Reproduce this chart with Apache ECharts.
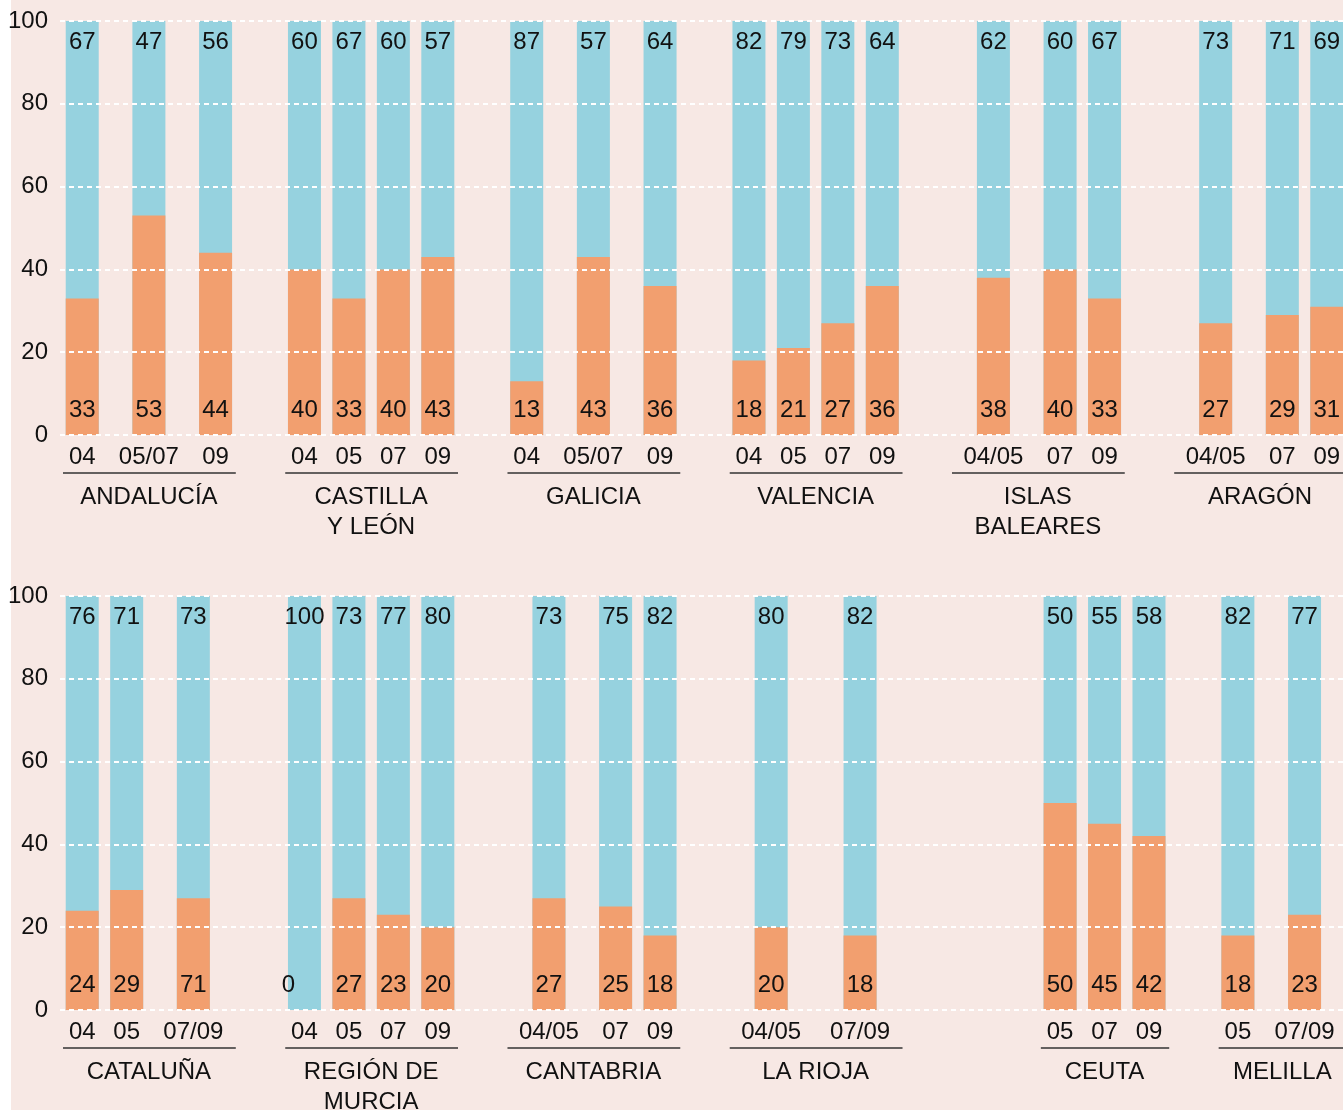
<!DOCTYPE html>
<html>
<head>
<meta charset="utf-8">
<script src="https://cdn.jsdelivr.net/npm/echarts@6/dist/echarts.min.js"></script>
<style>
html, body { margin: 0; padding: 0; background: #fff; }
#chart { width: 1343px; height: 1110px; }
</style>
</head>
<body>
<div id="chart"></div>
<script>
// fila superior
var regions1 = ['ANDALUCÍA', 'CASTILLA\nY LEÓN', 'GALICIA', 'VALENCIA', 'ISLAS\nBALEARES', 'ARAGÓN'];
var periods1 = [['04', '05/07', '09'], ['04', '05', '07', '09'], ['04', '05/07', '09'], ['04', '05', '07', '09'], ['04/05', '07', '09'], ['04/05', '07', '09']];
var blue1 = [[67, 47, 56], [60, 67, 60, 57], [87, 57, 64], [82, 79, 73, 64], [62, 60, 67], [73, 71, 69]];
var orange1 = [[33, 53, 44], [40, 33, 40, 43], [13, 43, 36], [18, 21, 27, 36], [38, 40, 33], [27, 29, 31]];

// fila inferior
var regions2 = ['CATALUÑA', 'REGIÓN DE\nMURCIA', 'CANTABRIA', 'LA RIOJA', 'CEUTA', 'MELILLA'];
var periods2 = [['04', '05', '07/09'], ['04', '05', '07', '09'], ['04/05', '07', '09'], ['04/05', '07/09'], ['05', '07', '09'], ['05', '07/09']];
var blue2 = [[76, 71, 73], [100, 73, 77, 80], [73, 75, 82], [80, 82], [50, 55, 58], [82, 77]];
var orange2 = [[24, 29, 27], [0, 27, 23, 20], [27, 25, 18], [20, 18], [50, 45, 42], [18, 23]];
// el rótulo impreso de Cataluña 07/09 dice 71 aunque la barra mide 27
var orangePrinted2 = [[24, 29, 71], [0, 27, 23, 20], [27, 25, 18], [20, 18], [50, 45, 42], [18, 23]];

var yTicks = [0, 20, 40, 60, 80, 100];

// layout: slot where each group starts
var start1 = [0, 5, 10, 15, 20, 25];
var start2 = [0, 5, 10, 15, 22, 26];

var BLUE = '#96d2df';
var ORANGE = '#f29f6f';
var BG = '#f7e8e4';
var FONT = 'Liberation Sans';
var FS = 24;
var rows = [
    { regions: regions1, periods: periods1, blue: blue1, orange: orange1, printed: orange1, start: start1, top: 21 },
    { regions: regions2, periods: periods2, blue: blue2, orange: orange2, printed: orangePrinted2, start: start2, top: 596 }
];
var GRID_H = 414;

function slotsOf(periods) {
    var has04 = periods.some(function (p) { return p.split('/').indexOf('04') >= 0; });
    return has04 ? ['04', '05', '07', '09'] : ['05', '07', '09'];
}

var option = {
    backgroundColor: BG,
    animation: false,
    textStyle: { fontFamily: FONT },
    grid: [],
    xAxis: [],
    yAxis: [],
    series: [],
    graphic: [{ type: 'rect', left: 0, top: 0, shape: { width: 11, height: 1110 }, style: { fill: '#fff' } }]
};

var underlines = [];

rows.forEach(function (row, r) {
    var pos = [], periodText = {}, centers = [], nameText = {};
    var totalData = [], orangeData = [], blueLabels = [], orangeLabels = [];
    row.regions.forEach(function (name, g) {
        var slots = slotsOf(row.periods[g]);
        var s = row.start[g];
        row.periods[g].forEach(function (p, i) {
            var idx = p.split('/').map(function (y) { return slots.indexOf(y); });
            var x = s + idx.reduce(function (a, b) { return a + b; }, 0) / idx.length;
            var ov = row.orange[g][i], bv = row.blue[g][i];
            pos.push(x);
            periodText[String(x)] = p;
            // blue sits on top of orange: its bar runs from 0 to orange + blue
            totalData.push([x, ov + bv]);
            orangeData.push(ov === 0 ? { value: [x, ov], label: { offset: [-16, 0] } } : [x, ov]);
            blueLabels.push(bv);
            orangeLabels.push(row.printed[g][i]);
        });
        var c = s + (slots.length - 1) / 2;
        centers.push(c);
        nameText[String(c)] = name;
        underlines.push({ row: r, from: s - 0.5, to: s + slots.length - 0.5 });
    });

    option.grid.push({ left: 60, width: 1289, top: row.top, height: GRID_H, outerBoundsMode: 'none', containLabel: false });
    var xBase = { type: 'value', gridIndex: r, min: -0.5, max: 28.5, position: 'bottom',
        axisLine: { show: false }, axisTick: { show: false }, splitLine: { show: false } };
    option.xAxis.push(Object.assign({}, xBase, {
        axisLabel: { customValues: pos, margin: 10, fontSize: FS, color: '#111', fontFamily: FONT,
            formatter: function (v) { return periodText[String(v)] || ''; } }
    }));
    option.xAxis.push(Object.assign({}, xBase, {
        axisLabel: { customValues: centers, margin: 47, fontSize: FS, lineHeight: 30, color: '#111', fontFamily: FONT,
            formatter: function (v) { return nameText[String(v)] || ''; } }
    }));
    option.yAxis.push({
        type: 'value', gridIndex: r, min: yTicks[0], max: yTicks[yTicks.length - 1], interval: yTicks[1] - yTicks[0],
        z: 5,
        axisLine: { show: false }, axisTick: { show: false },
        axisLabel: { margin: 12, fontSize: FS, color: '#111', fontFamily: FONT },
        splitLine: { lineStyle: { color: '#fff', width: 2, type: [5, 4] } }
    });
    option.series.push({
        type: 'bar', name: 'blue' + r, xAxisIndex: r * 2, yAxisIndex: r,
        barWidth: 33, barGap: '-100%', itemStyle: { color: BLUE }, data: totalData,
        label: { show: true, position: 'insideTop', distance: 9, fontSize: FS, color: '#111', fontFamily: FONT,
            formatter: function (p) { return blueLabels[p.dataIndex]; } }
    });
    option.series.push({
        type: 'bar', name: 'orange' + r, xAxisIndex: r * 2, yAxisIndex: r,
        barWidth: 33, barGap: '-100%', itemStyle: { color: ORANGE }, data: orangeData,
        label: { show: true, position: 'insideBottom', distance: 13, fontSize: FS, color: '#111', fontFamily: FONT,
            formatter: function (p) { return orangeLabels[p.dataIndex]; } }
    });
});

var chart = echarts.init(document.getElementById('chart'));
chart.setOption(option);

// líneas bajo cada grupo
var lines = option.graphic.slice();
underlines.forEach(function (u) {
    var x1 = chart.convertToPixel({ xAxisIndex: u.row * 2 }, u.from) + 3;
    var x2 = chart.convertToPixel({ xAxisIndex: u.row * 2 }, u.to) - 2;
    var y = chart.convertToPixel({ yAxisIndex: u.row }, 0) + 38;
    lines.push({ type: 'line', shape: { x1: x1, y1: y, x2: x2, y2: y }, style: { stroke: '#333', lineWidth: 1.5 } });
});
chart.setOption({ graphic: lines });
</script>
</body>
</html>
